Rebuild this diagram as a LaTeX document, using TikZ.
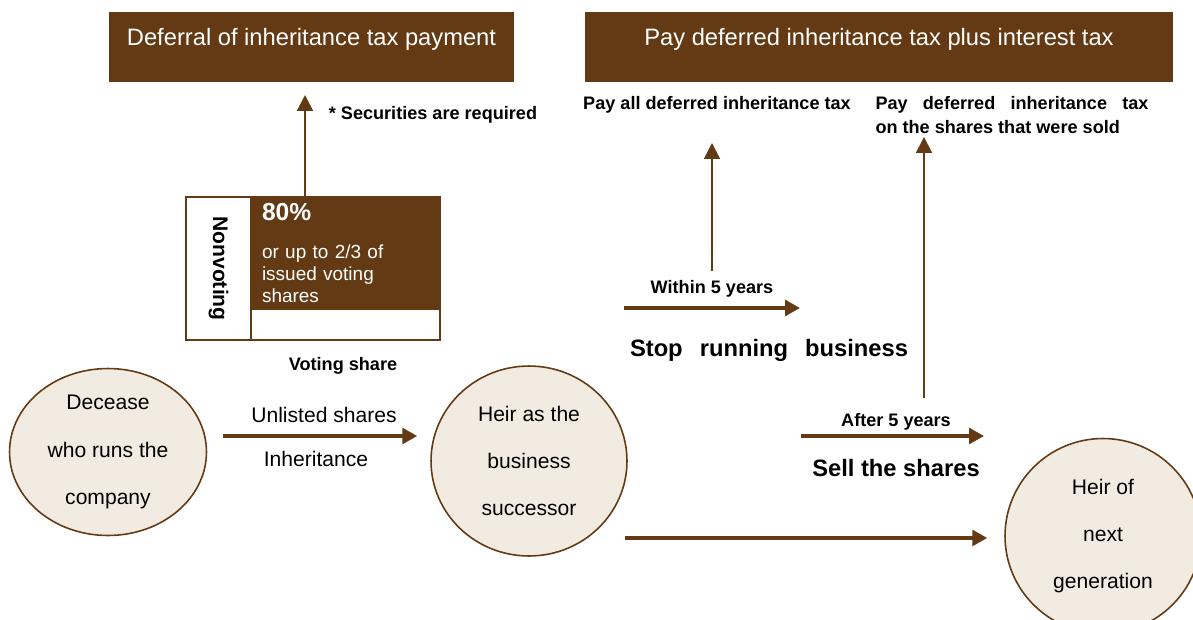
\documentclass[tikz,border=0pt]{standalone}
\usepackage{fontspec}
\setmainfont{Liberation Sans}
\usepackage{xcolor}
\definecolor{bark}{HTML}{633A14}
\definecolor{cream}{HTML}{F2EBE1}
\usetikzlibrary{shapes.geometric,arrows.meta}

\begin{document}
\begin{tikzpicture}[
  x=0.02cm, y=-0.02cm,
  header/.style={fill=bark, text=white, minimum width=#1, minimum height=1.4cm, inner sep=0pt,
                 text height=0.3cm, text depth=0.38cm, font=\fontsize{13.5}{16}\selectfont},
  party/.style={ellipse, draw=bark, line width=0.9pt, fill=cream, align=center, inner sep=0pt,
                font=\fontsize{12}{27}\selectfont},
  cell/.style={draw=bark, line width=0.8pt, inner sep=0pt},
  plain/.style={font=\fontsize{12}{14}\selectfont},
  tag/.style={font=\bfseries\fontsize{10.3}{12.5}\selectfont},
  event/.style={font=\bfseries\fontsize{13.5}{16}\selectfont},
  flow/.style={bark, line width=1.9pt, -{Triangle[length=8.5pt,width=9pt]}},
  rise/.style={bark, line width=1.1pt, -{Triangle[length=9pt,width=9pt]}}
]
  \useasboundingbox (0,0) rectangle (1193,619);

  % tax headers
  \node[header=8.1cm] (defer) at (311.5,47) {Deferral of inheritance tax payment};
  \node[header=11.76cm] (payback) at (879,47) {Pay deferred inheritance tax plus interest tax};

  % shareholders
  \node[party, minimum width=3.94cm, minimum height=3.34cm] (deceased) at (108,452) {Decease\\who runs the\\company};
  \node[party, minimum width=3.92cm, minimum height=3.8cm] (heir) at (529,461) {Heir as the\\business\\successor};
  \node[party, minimum width=3.92cm, minimum height=3.9cm] (nextgen) at (1103,536) {Heir of\\next\\generation};

  % share split
  \node[cell, fill=white, rotate=-90, minimum width=2.86cm, minimum height=1.3cm,
        font=\bfseries\fontsize{12}{14}\selectfont] (nonvoting) at (218.5,268.5) {Nonvoting};
  \node[cell, fill=bark, text=white, minimum width=3.78cm, minimum height=2.24cm,
        text width=3.34cm, inner xsep=0.22cm, align=left,
        font=\fontsize{10.8}{12.4}\selectfont] (share80) at (345.5,253)
        {{\bfseries\fontsize{14}{16}\selectfont 80\%}\\[9pt]or up to 2/3 of\\issued voting\\shares\\[-4pt]};
  \node[cell, fill=white, minimum width=3.78cm, minimum height=0.62cm] (rest) at (345.5,324.5) {};
  \node[tag] (voting) at (343,366) {Voting share};

  % labels
  \node[tag] (securities) at (433,115) {* Securities are required};
  \node[tag] (payall) at (717,105) {Pay all deferred inheritance tax};
  \node[tag, align=left] (paysold) at (1012,115)
        {\makebox[5.46cm][s]{Pay deferred inheritance tax}\\[1pt]on the shares that were sold};
  \node[plain] (unlisted) at (324,415) {Unlisted shares};
  \node[plain] (inherit) at (316,459) {Inheritance};
  \node[tag] (within) at (712,289) {Within 5 years};
  \node[event] (stop) at (769,350) {\makebox[5.56cm][s]{Stop running business}};
  \node[tag] (after) at (896,422) {After 5 years};
  \node[event] (sell) at (896,468) {Sell the shares};

  \coordinate (secure) at (305,95);
  \coordinate (allup) at (712,143);
  \coordinate (soldup) at (924,137);
  \coordinate (quit0) at (624,308);
  \coordinate (quit1) at (800,308);
  \coordinate (sell0) at (801,436);
  \coordinate (sell1) at (984,436);

  % arrows
  \draw[flow] ([shift={(16,-16)}]deceased.east) -- ([shift={(-13,-25)}]heir.west);
  \draw[flow] ([shift={(-3,77)}]heir.east) -- ([shift={(-17,2)}]nextgen.west);
  \draw[flow] (quit0) -- (quit1);
  \draw[flow] (sell0) -- (sell1);
  \draw[rise] (secure |- share80.north) -- (secure);
  \draw[rise, shorten <=0.06cm] (within.north) -- (allup);
  \draw[rise, shorten <=0.18cm] (soldup |- after.north) -- (soldup);
\end{tikzpicture}
\end{document}
